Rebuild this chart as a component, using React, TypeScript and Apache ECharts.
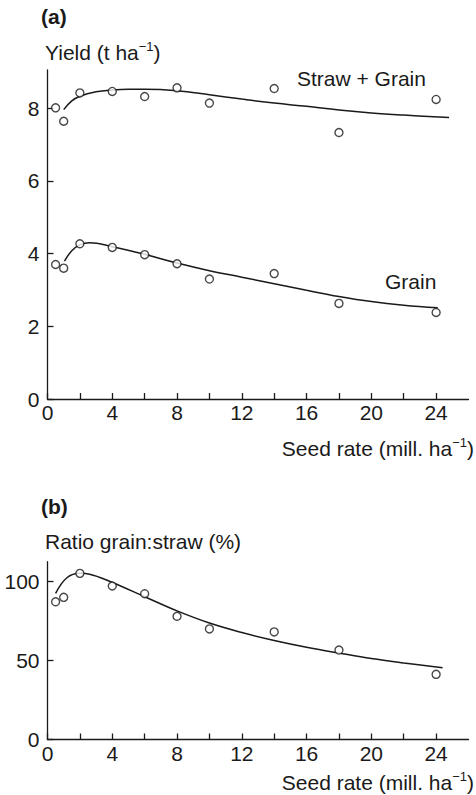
import React, { useEffect, useRef } from "react";
import * as echarts from "echarts";

const seedRate = [0.5, 1, 2, 4, 6, 8, 10, 14, 18, 24];
const strawGrain = [8.01, 7.64, 8.42, 8.46, 8.32, 8.56, 8.14, 8.54, 7.33, 8.24];
const grain = [3.7, 3.6, 4.27, 4.17, 3.97, 3.72, 3.3, 3.45, 2.63, 2.38];
const ratio = [87.3, 90.1, 105.3, 97.3, 92.4, 78.1, 70.1, 68.2, 56.7, 41.3];

// Fitted curves
const strawGrainFitX = [1, 1.5, 2, 3, 4, 5, 6, 8, 10, 12, 14, 16, 18, 20, 22, 24.8];
const strawGrainFitY = [7.96, 8.2, 8.33, 8.45, 8.5, 8.52, 8.52, 8.48, 8.37, 8.25, 8.14, 8.05, 7.95, 7.87, 7.81, 7.74];
const grainFitX = [1.05, 1.5, 2, 2.6, 4, 6, 8, 10, 12, 14, 16, 18, 20, 22, 24.1];
const grainFitY = [3.79, 4.08, 4.24, 4.3, 4.19, 3.98, 3.74, 3.53, 3.35, 3.17, 2.99, 2.82, 2.68, 2.58, 2.51];
const ratioFitX = [0.5, 1.2, 2, 2.6, 4, 6, 8, 10, 12, 14, 16, 18, 20, 22, 24.4];
const ratioFitY = [92.6, 102.5, 105.3, 104.8, 99.5, 90.5, 81.5, 73.8, 67.8, 62.8, 58.5, 54.8, 51.3, 48.5, 45.5];

// Axis ticks and labels
const xTicks = [0, 2, 4, 6, 8, 10, 12, 14, 16, 18, 20, 22, 24];
const xLabels = [0, 4, 8, 12, 16, 20, 24];
const yieldTicks = [0, 2, 4, 6, 8];
const ratioTicks = [0, 50, 100];

const FONT = "Liberation Sans, Arial, Helvetica, sans-serif";
const INK = "#1a1a1a";
const FS = 21;

const zip = (xs: number[], ys: number[]) => xs.map((x, i) => [x, ys[i]]);

function xAxisOpt(gridIndex: number) {
  return {
    type: "value",
    gridIndex,
    min: 0,
    max: 26,
    axisLine: { show: true, lineStyle: { color: INK, width: 1.3 } },
    axisTick: { show: true, inside: true, length: 6, customValues: xTicks, lineStyle: { color: INK, width: 1.3 } },
    axisLabel: { show: true, customValues: xLabels, margin: 3, fontSize: FS, fontFamily: FONT, color: INK },
    splitLine: { show: false },
  };
}

function yAxisOpt(gridIndex: number, max: number, ticks: number[]) {
  return {
    type: "value",
    gridIndex,
    min: 0,
    max,
    axisLine: { show: true, lineStyle: { color: INK, width: 1.3 } },
    axisTick: { show: true, inside: true, length: 6, customValues: ticks, lineStyle: { color: INK, width: 1.3 } },
    axisLabel: { show: true, customValues: ticks, margin: 8, fontSize: FS, fontFamily: FONT, color: INK },
    splitLine: { show: false },
  };
}

const pointStyle = { color: "#fff", borderColor: INK, borderWidth: 1.4 };

function scatter(idx: number, xs: number[], ys: number[]) {
  return {
    type: "scatter",
    xAxisIndex: idx,
    yAxisIndex: idx,
    data: zip(xs, ys),
    symbol: "circle",
    symbolSize: 8,
    itemStyle: pointStyle,
    z: 5,
  };
}

function curve(idx: number, xs: number[], ys: number[]) {
  return {
    type: "line",
    xAxisIndex: idx,
    yAxisIndex: idx,
    data: zip(xs, ys),
    smooth: 0.4,
    showSymbol: false,
    lineStyle: { color: INK, width: 1.5 },
    z: 3,
  };
}

const supRich = {
  a: { fontSize: FS, fontFamily: FONT, color: INK, lineHeight: 25, verticalAlign: "middle" },
  s: { fontSize: 13, fontFamily: FONT, color: INK, lineHeight: 18, verticalAlign: "top" },
};

function label(text: string, left: number, cy: number, opts: any = {}) {
  return {
    type: "text",
    left,
    top: cy - 12,
    style: { text, fontSize: FS, fontFamily: FONT, fill: INK, ...opts },
  };
}

function richLabel(text: string, x: number, cy: number, align = "left") {
  return {
    type: "text",
    x,
    y: cy,
    style: {
      text,
      rich: supRich,
      align,
      verticalAlign: "middle",
      fontSize: FS,
      fontFamily: FONT,
      fill: INK,
    },
  };
}

export default function App() {
  const ref = useRef<HTMLDivElement>(null);
  useEffect(() => {
    const chart = echarts.init(ref.current!, null, { renderer: "svg" });
    const option: any = {
      animation: false,
      backgroundColor: "#fff",
      grid: [
        { left: 47.5, width: 421, top: 70, height: 329 },
        { left: 47.5, width: 421, top: 561.7, height: 177.8 },
      ],
      xAxis: [xAxisOpt(0), xAxisOpt(1)],
      yAxis: [yAxisOpt(0, 9.05, yieldTicks), yAxisOpt(1, 112.7, ratioTicks)],
      series: [
        curve(0, strawGrainFitX, strawGrainFitY),
        curve(0, grainFitX, grainFitY),
        curve(1, ratioFitX, ratioFitY),
        scatter(0, seedRate, strawGrain),
        scatter(0, seedRate, grain),
        scatter(1, seedRate, ratio),
      ],
      graphic: [
        label("(a)", 41, 17.5, { fontWeight: "bold" }),
        label("(b)", 41, 508, { fontWeight: "bold" }),
        richLabel("{a|Yield (t ha}{s|−1}{a|)}", 45, 52.5),
        label("Ratio grain:straw (%)", 45, 543),
        label("Straw + Grain", 297, 80),
        label("Grain", 385, 283),
        richLabel("{a|Seed rate (mill. ha}{s|−1}{a|)}", 474, 448, "right"),
        richLabel("{a|Seed rate (mill. ha}{s|−1}{a|)}", 474, 782, "right"),
      ],
    };
    chart.setOption(option);
    return () => chart.dispose();
  }, []);
  return (
    <div
      ref={ref}
      style={{ position: "fixed", left: 0, top: 0, width: 476, height: 795, background: "#fff" }}
    />
  );
}
